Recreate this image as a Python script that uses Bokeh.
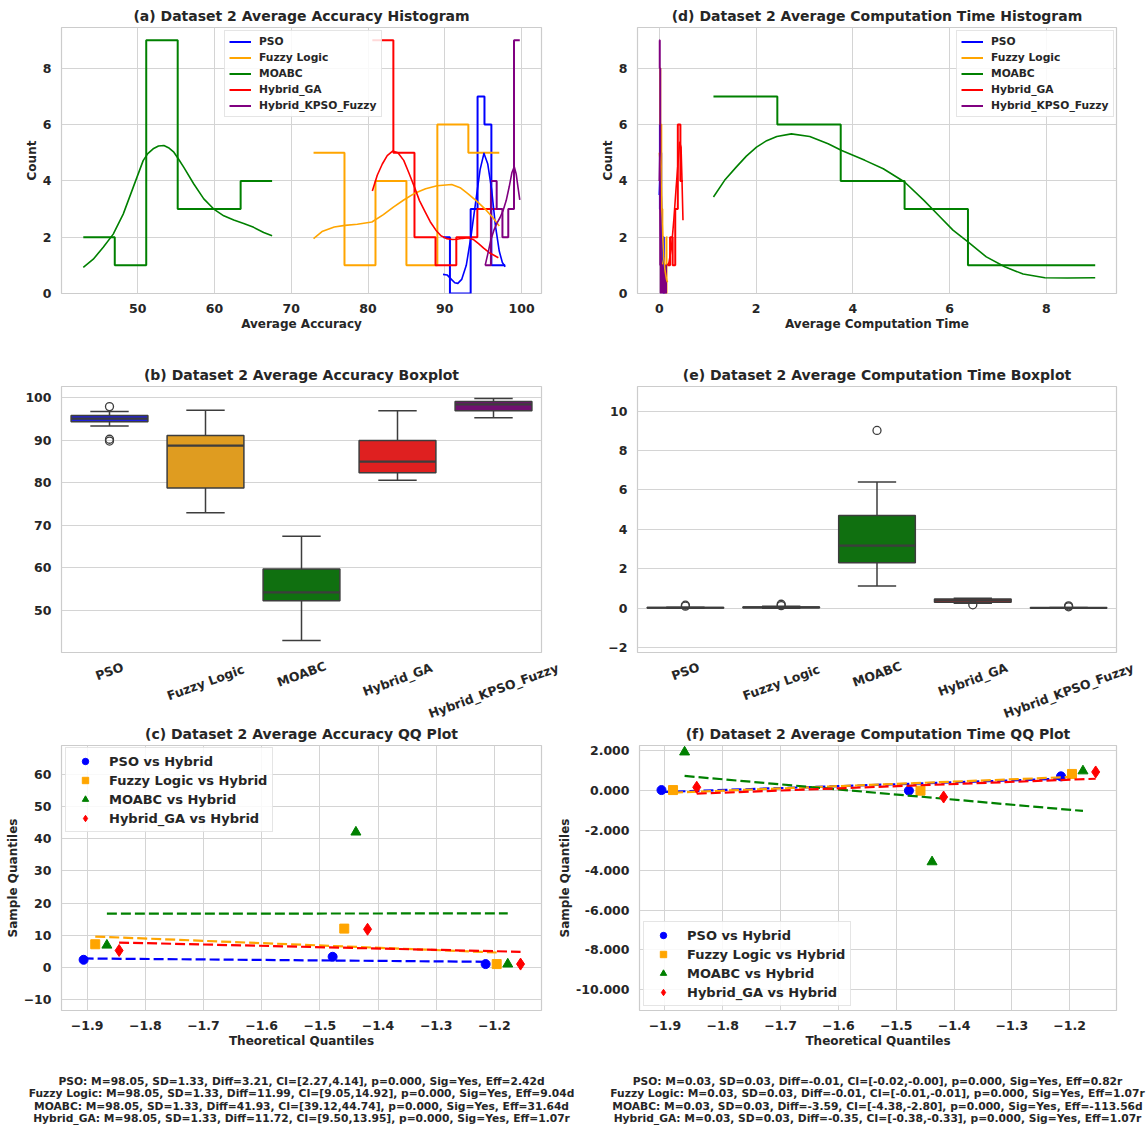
import math
from bokeh.plotting import figure
from bokeh.layouts import column, row
from bokeh.models import Range1d, FixedTicker, CustomJSTickFormatter
from bokeh.embed import file_html
from bokeh.resources import INLINE
from bokeh.core.properties import value

FONT = "DejaVu Sans"
INK = "#262626"
GRID = "#d4d4d4"
EDGE = "#cccccc"
BOX_LINE = "#3d3d3d"

methods = ["PSO", "Fuzzy Logic", "MOABC", "Hybrid_GA", "Hybrid_KPSO_Fuzzy"]
line_colors = ["blue", "orange", "green", "red", "purple"]
box_colors = ["#2020df", "#df9c20", "#107010", "#df2020", "#701070"]

# ---------------- accuracy histograms: bin edges and counts ----------------
acc_edges_pso = [89.77, 90.67, 91.57, 92.47, 93.37, 94.27, 95.17, 96.07, 96.97, 97.87]
acc_counts_pso = [2, 0, 0, 0, 3, 7, 6, 1, 1]
acc_edges_fuzzy = [72.90, 76.93, 80.97, 85.00, 89.03, 93.07, 97.10]
acc_counts_fuzzy = [5, 1, 4, 1, 6, 5]
acc_edges_moabc = [42.90, 47.00, 51.10, 55.20, 59.30, 63.40, 67.50]
acc_counts_moabc = [2, 1, 9, 3, 3, 4]
acc_edges_ga = [80.56, 83.30, 86.05, 88.79, 91.50, 94.24, 96.98]
acc_counts_ga = [9, 5, 2, 1, 2, 3]
acc_edges_kpso = [95.26, 96.01, 96.76, 97.51, 98.27, 99.02, 99.77]
acc_counts_kpso = [1, 4, 3, 2, 3, 9]

# accuracy density curves (scaled to counts)
acc_kde_x_pso = [89.77, 90.3, 90.8, 91.3, 91.7, 92.2, 92.8, 93.4, 94.0, 94.6, 95.1, 95.6, 96.1, 96.6, 97.1, 97.5, 97.87]
acc_kde_y_pso = [0.68, 0.66, 0.52, 0.38, 0.36, 0.50, 1.00, 2.00, 3.20, 4.40, 4.98, 4.60, 3.70, 2.40, 1.50, 1.10, 0.95]
acc_kde_x_fuzzy = [72.9, 74.0, 75.6, 77.0, 78.6, 80.5, 82.0, 83.3, 84.7, 86.0, 87.5, 89.0, 90.9, 92.0, 93.0, 94.2, 95.4, 96.3, 97.1]
acc_kde_y_fuzzy = [1.95, 2.20, 2.36, 2.42, 2.46, 2.54, 2.80, 3.07, 3.33, 3.55, 3.72, 3.83, 3.87, 3.76, 3.55, 3.27, 2.96, 2.68, 2.40]
acc_kde_x_moabc = [42.9, 44.2, 45.5, 46.8, 48.1, 49.4, 50.7, 51.3, 52.0, 52.7, 53.4, 54.0, 54.7, 55.3, 56.0, 57.3, 58.6, 59.9, 61.2, 62.5, 63.8, 65.1, 66.4, 67.5]
acc_kde_y_moabc = [0.93, 1.22, 1.64, 2.11, 2.82, 3.77, 4.72, 4.97, 5.14, 5.24, 5.26, 5.18, 5.02, 4.78, 4.48, 3.89, 3.36, 3.00, 2.76, 2.61, 2.49, 2.35, 2.17, 2.05]
acc_kde_x_ga = [80.56, 81.2, 81.86, 82.5, 83.2, 83.9, 84.65, 85.3, 86.05, 86.7, 87.44, 88.1, 88.84, 89.5, 90.23, 91.0, 91.6, 92.3, 93.0, 93.7, 94.4, 95.1, 95.8, 96.4, 96.98]
acc_kde_y_ga = [3.64, 4.20, 4.60, 4.90, 5.06, 5.00, 4.73, 4.30, 3.78, 3.30, 2.90, 2.55, 2.25, 2.05, 1.95, 1.92, 1.93, 1.96, 1.98, 1.92, 1.77, 1.60, 1.45, 1.36, 1.27]
acc_kde_x_kpso = [95.26, 95.6, 96.0, 96.4, 96.8, 97.2, 97.6, 98.0, 98.4, 98.75, 99.05, 99.3, 99.55, 99.77]
acc_kde_y_kpso = [1.00, 1.40, 1.90, 2.25, 2.50, 2.70, 2.95, 3.30, 3.80, 4.30, 4.50, 4.25, 3.75, 3.33]

# ---------------- computation time histograms ----------------
time_edges_pso = [0.0, 0.0133, 0.0267, 0.04, 0.0533, 0.0667, 0.08, 0.0933, 0.1067, 0.12]
time_counts_pso = [3, 6, 5, 3, 1, 1, 2, 0, 1]
time_edges_fuzzy = [0.0, 0.021, 0.0425, 0.064, 0.085, 0.106, 0.1275, 0.149, 0.17]
time_counts_fuzzy = [8, 6, 3, 1, 1, 1, 0, 2]
time_edges_moabc = [1.12, 2.44, 3.75, 5.07, 6.38, 7.70, 9.01]
time_counts_moabc = [7, 6, 4, 3, 1, 1]
time_edges_ga = [0.17, 0.2233, 0.2767, 0.33, 0.3833, 0.4367, 0.49]
time_counts_ga = [1, 2, 1, 3, 6, 4]
time_edges_kpso = [0.0, 0.01, 0.02, 0.03, 0.04, 0.05, 0.06, 0.07, 0.08, 0.09, 0.10, 0.11, 0.12, 0.13, 0.14, 0.15]
time_counts_kpso = [9, 8, 1, 0, 1, 0, 1, 0, 0, 1, 0, 0, 0, 0, 1]

time_kde_x_pso = [0.0, 0.02, 0.04, 0.06, 0.08, 0.10, 0.12]
time_kde_y_pso = [3.5, 4.5, 3.5, 2.0, 1.2, 1.0, 0.8]
time_kde_x_fuzzy = [0.0, 0.03, 0.06, 0.09, 0.12, 0.15, 0.17]
time_kde_y_fuzzy = [5.0, 4.5, 2.5, 1.3, 0.8, 0.5, 0.4]
time_kde_x_moabc = [1.12, 1.35, 1.59, 1.80, 2.01, 2.22, 2.43, 2.73, 3.11, 3.49, 3.77, 4.25, 4.63, 5.07, 5.47, 5.77, 6.07, 6.38, 6.76, 7.14, 7.52, 7.97, 8.43, 9.01]
time_kde_y_moabc = [3.43, 4.02, 4.49, 4.88, 5.20, 5.43, 5.58, 5.67, 5.58, 5.32, 5.08, 4.73, 4.43, 3.96, 3.31, 2.78, 2.25, 1.83, 1.30, 0.95, 0.69, 0.56, 0.55, 0.56]
time_kde_x_ga = [0.17, 0.20, 0.25, 0.30, 0.35, 0.40, 0.42, 0.45, 0.47, 0.49]
time_kde_y_ga = [1.0, 1.1, 1.6, 2.6, 3.8, 4.9, 5.37, 5.2, 4.0, 2.6]
time_kde_x_kpso = [0.0, 0.01, 0.02, 0.04, 0.07, 0.10, 0.15]
time_kde_y_kpso = [4.0, 5.0, 3.0, 1.0, 0.5, 0.3, 0.2]

# ---------------- box plot summaries (low whisker, q1, median, q3, high whisker) ----------------
acc_lo = [93.30, 72.90, 42.90, 80.55, 95.26]
acc_q1 = [94.30, 78.75, 52.20, 82.35, 96.90]
acc_med = [95.07, 88.70, 54.20, 84.95, 98.40]
acc_q3 = [95.80, 91.10, 59.70, 89.90, 99.06]
acc_hi = [96.70, 97.00, 67.40, 96.90, 99.77]
acc_out_idx = [0, 0, 0]
acc_out_val = [97.87, 90.20, 89.77]

time_lo = [0.00, 0.00, 1.12, 0.25, 0.00]
time_q1 = [0.01, 0.02, 2.31, 0.30, 0.005]
time_med = [0.02, 0.04, 3.17, 0.40, 0.01]
time_q3 = [0.03, 0.06, 4.70, 0.46, 0.02]
time_hi = [0.05, 0.10, 6.40, 0.50, 0.04]
time_out_idx = [0, 0, 1, 1, 2, 3, 4, 4]
time_out_val = [0.10, 0.15, 0.13, 0.20, 9.02, 0.17, 0.07, 0.12]

# ---------------- QQ plots ----------------
qq_labels = ["PSO vs Hybrid", "Fuzzy Logic vs Hybrid", "MOABC vs Hybrid", "Hybrid_GA vs Hybrid"]
qq_colors = ["blue", "orange", "green", "red"]
qq_markers = ["circle", "square", "triangle", "diamond"]
qq_sizes = [9, 9, 10, 12]
qq_theo = [[-1.906, -1.478, -1.215], [-1.886, -1.458, -1.196], [-1.866, -1.438, -1.177], [-1.845, -1.418, -1.155]]
acc_qq_sample = [[2.37, 3.30, 1.03], [7.20, 12.06, 1.03], [6.90, 42.06, 1.03], [5.26, 11.86, 1.03]]
acc_qq_fit = [[2.78, 1.75], [9.60, 4.64], [16.70, 16.80], [7.73, 4.85]]
time_qq_sample = [[0.03, 0.00, 0.72], [0.03, 0.00, 0.84], [1.94, -3.58, 0.99], [0.17, -0.32, 0.94]]
time_qq_fit = [[-0.07, 0.60], [-0.10, 0.69], [0.74, -1.02], [-0.15, 0.60]]

acc_stats = [
    "PSO: M=98.05, SD=1.33, Diff=3.21, CI=[2.27,4.14], p=0.000, Sig=Yes, Eff=2.42d",
    "Fuzzy Logic: M=98.05, SD=1.33, Diff=11.99, CI=[9.05,14.92], p=0.000, Sig=Yes, Eff=9.04d",
    "MOABC: M=98.05, SD=1.33, Diff=41.93, CI=[39.12,44.74], p=0.000, Sig=Yes, Eff=31.64d",
    "Hybrid_GA: M=98.05, SD=1.33, Diff=11.72, CI=[9.50,13.95], p=0.000, Sig=Yes, Eff=1.07r",
]
time_stats = [
    "PSO: M=0.03, SD=0.03, Diff=-0.01, CI=[-0.02,-0.00], p=0.000, Sig=Yes, Eff=0.82r",
    "Fuzzy Logic: M=0.03, SD=0.03, Diff=-0.01, CI=[-0.01,-0.01], p=0.000, Sig=Yes, Eff=1.07r",
    "MOABC: M=0.03, SD=0.03, Diff=-3.59, CI=[-4.38,-2.80], p=0.000, Sig=Yes, Eff=-113.56d",
    "Hybrid_GA: M=0.03, SD=0.03, Diff=-0.35, CI=[-0.38,-0.33], p=0.000, Sig=Yes, Eff=1.07r",
]

FRAME_H = 266
PAGE_W = 1147
PAGE_H = 1126


def base_fig(title, width, height, borders, xr, yr):
    left, right, top, bottom = borders
    p = figure(width=width, height=height, x_range=Range1d(*xr), y_range=Range1d(*yr),
               output_backend="svg", toolbar_location=None, title=title,
               min_border_left=left, min_border_right=right,
               min_border_top=top, min_border_bottom=bottom)
    p.title.align = "center"
    p.title.text_font = FONT
    p.title.text_font_size = "14px"
    p.title.text_font_style = "bold"
    p.title.text_color = INK
    p.title.standoff = 7
    p.outline_line_color = EDGE
    p.outline_line_width = 1.2
    p.background_fill_color = "white"
    p.border_fill_color = "white"
    for ax in p.axis:
        ax.axis_line_color = None
        ax.major_tick_line_color = None
        ax.minor_tick_line_color = None
        ax.major_label_text_font = FONT
        ax.major_label_text_font_style = "bold"
        ax.major_label_text_font_size = "12.5px"
        ax.major_label_text_color = INK
        ax.major_label_standoff = 4
        ax.axis_label_text_font = FONT
        ax.axis_label_text_font_style = "bold"
        ax.axis_label_text_font_size = "12px"
        ax.axis_label_text_color = INK
        ax.axis_label_standoff = 1
    p.grid.grid_line_color = GRID
    p.grid.grid_line_width = 1
    return p


def minus_fmt(digits):
    return CustomJSTickFormatter(code="return tick.toFixed(%d).replace('-', '\\u2212');" % digits)


def style_legend(lg, loc, size, glyph_w, row_h, spacing, padding, standoff):
    lg.location = loc
    lg.margin = 0
    lg.label_text_font = FONT
    lg.label_text_font_style = "bold"
    lg.label_text_font_size = size
    lg.label_text_color = INK
    lg.glyph_width = glyph_w
    lg.glyph_height = row_h
    lg.label_height = row_h
    lg.spacing = spacing
    lg.padding = padding
    lg.label_standoff = standoff
    lg.border_line_color = EDGE
    lg.border_line_width = 1
    lg.background_fill_alpha = 0.85


def hist_panel(title, xlabel, width, borders, xr, xticks, edges, counts, kx, ky, legend_loc):
    p = base_fig(title, width, 350, borders, xr, (0, 9.45))
    p.xaxis.axis_label = xlabel
    p.yaxis.axis_label = "Count"
    p.xaxis.ticker = FixedTicker(ticks=xticks)
    p.yaxis.ticker = FixedTicker(ticks=[0, 2, 4, 6, 8])
    p.xaxis.formatter = minus_fmt(0)
    for name, col, e, c in zip(methods, line_colors, edges, counts):
        p.step(x=e, y=c + [c[-1]], mode="after", line_color=col, line_width=2, legend_label=name)
    for col, x, y in zip(line_colors, kx, ky):
        p.line(x=x, y=y, line_color=col, line_width=1.6, line_join="round")
    style_legend(p.legend[0], legend_loc, "10.7px", 22, 13, 3, 4, 8)
    return p


def box_panel(title, width, borders, yr, yticks, fmt, lo, q1, med, q3, hi, out_idx, out_val):
    left, right, top, bottom = borders
    p = base_fig(title, width, top + FRAME_H + bottom, borders, (-0.5, 4.5), yr)
    idx = list(range(len(methods)))
    p.xaxis.visible = False
    p.xgrid.grid_line_color = None
    p.yaxis.ticker = FixedTicker(ticks=yticks)
    p.yaxis.formatter = fmt
    p.segment(x0=idx, y0=q3, x1=idx, y1=hi, line_color=BOX_LINE, line_width=1.5)
    p.segment(x0=idx, y0=q1, x1=idx, y1=lo, line_color=BOX_LINE, line_width=1.5)
    p.segment(x0=[i - 0.2 for i in idx], y0=hi, x1=[i + 0.2 for i in idx], y1=hi, line_color=BOX_LINE, line_width=1.5)
    p.segment(x0=[i - 0.2 for i in idx], y0=lo, x1=[i + 0.2 for i in idx], y1=lo, line_color=BOX_LINE, line_width=1.5)
    p.vbar(x=idx, bottom=q1, top=q3, width=0.8, fill_color=box_colors, line_color=BOX_LINE, line_width=1.5)
    p.segment(x0=[i - 0.4 for i in idx], y0=med, x1=[i + 0.4 for i in idx], y1=med, line_color=BOX_LINE, line_width=2.2)
    p.scatter(x=out_idx, y=out_val, marker="circle", size=8, fill_color=None, line_color=BOX_LINE, line_width=1.3)
    return p


def qq_panel(title, width, borders, yr, yticks, yfmt, samples, fits, legend_loc):
    left, right, top, bottom = borders
    p = base_fig(title, width, top + FRAME_H + bottom, borders, (-1.944, -1.119), yr)
    p.xaxis.axis_label = "Theoretical Quantiles"
    p.yaxis.axis_label = "Sample Quantiles"
    p.xaxis.ticker = FixedTicker(ticks=[-1.9, -1.8, -1.7, -1.6, -1.5, -1.4, -1.3, -1.2])
    p.xaxis.formatter = minus_fmt(1)
    p.yaxis.ticker = FixedTicker(ticks=yticks)
    p.yaxis.formatter = yfmt
    for lab, col, mk, sz, tx, sy, fy in zip(qq_labels, qq_colors, qq_markers, qq_sizes, qq_theo, samples, fits):
        p.scatter(x=tx, y=sy, marker=mk, size=sz, fill_color=col, line_color=col, legend_label=lab)
        p.line(x=[min(tx), max(tx)], y=fy, line_color=col, line_width=2.2, line_dash="10 4")
    style_legend(p.legend[0], legend_loc, "13px", 28, 16, 3, 5, 10)
    return p


def blank_strip(height):
    s = figure(width=PAGE_W, height=height, output_backend="svg", toolbar_location=None,
               x_range=Range1d(0, PAGE_W), y_range=Range1d(0, height), min_border=0)
    s.axis.visible = False
    s.grid.visible = False
    s.outline_line_color = None
    return s


# ---------------- row 1: histograms ----------------
ROW1_H = 350
A_W, D_W = 589, 558
pa = hist_panel("(a) Dataset 2 Average Accuracy Histogram", "Average Accuracy", A_W, (61, 48, 27, 57),
                (40.06, 102.6), [50, 60, 70, 80, 90, 100],
                [acc_edges_pso, acc_edges_fuzzy, acc_edges_moabc, acc_edges_ga, acc_edges_kpso],
                [acc_counts_pso, acc_counts_fuzzy, acc_counts_moabc, acc_counts_ga, acc_counts_kpso],
                [acc_kde_x_pso, acc_kde_x_fuzzy, acc_kde_x_moabc, acc_kde_x_ga, acc_kde_x_kpso],
                [acc_kde_y_pso, acc_kde_y_fuzzy, acc_kde_y_moabc, acc_kde_y_ga, acc_kde_y_kpso],
                (163, 176))
pd_ = hist_panel("(d) Dataset 2 Average Computation Time Histogram", "Average Computation Time", D_W, (48, 31, 27, 57),
                 (-0.45, 9.45), [0, 2, 4, 6, 8],
                 [time_edges_pso, time_edges_fuzzy, time_edges_moabc, time_edges_ga, time_edges_kpso],
                 [time_counts_pso, time_counts_fuzzy, time_counts_moabc, time_counts_ga, time_counts_kpso],
                 [time_kde_x_pso, time_kde_x_fuzzy, time_kde_x_moabc, time_kde_x_ga, time_kde_x_kpso],
                 [time_kde_y_pso, time_kde_y_fuzzy, time_kde_y_moabc, time_kde_y_ga, time_kde_y_kpso],
                 (319, 176))

# ---------------- row 2: box plots ----------------
B_W, E_W = 575, 572
B_BORDERS = (61, 34, 36, 2)
E_BORDERS = (62, 31, 36, 2)
pb = box_panel("(b) Dataset 2 Average Accuracy Boxplot", B_W, B_BORDERS,
               (40.06, 102.6), [50, 60, 70, 80, 90, 100], minus_fmt(0),
               acc_lo, acc_q1, acc_med, acc_q3, acc_hi, acc_out_idx, acc_out_val)
pe = box_panel("(e) Dataset 2 Average Computation Time Boxplot", E_W, E_BORDERS,
               (-2.25, 11.25), [-2, 0, 2, 4, 6, 8, 10], minus_fmt(0),
               time_lo, time_q1, time_med, time_q3, time_hi, time_out_idx, time_out_val)

# rotated category names under both box plots, each centred on its box
STRIP_H = 66
cats = blank_strip(STRIP_H)
ang = math.radians(20)
cx, cy, ct = [], [], []
for x0, width, (left, right, _, _) in ((0, B_W, B_BORDERS), (B_W, E_W, E_BORDERS)):
    slot = (width - left - right) / len(methods)
    for i, name in enumerate(methods):
        w = 8.1 * len(name)
        cx.append(x0 + left + (i + 0.5) * slot)
        cy.append(STRIP_H - (6 + (w * math.sin(ang) + 14 * math.cos(ang)) / 2))
        ct.append(name)
cats.text(x=cx, y=cy, text=ct, angle=ang, text_align="center", text_baseline="middle",
          text_font=value(FONT), text_font_style="bold", text_font_size="12.5px", text_color=INK)

# ---------------- row 3: QQ plots ----------------
C_BORDERS = (61, 14, 24, 50)
F_BORDERS = (82, 31, 24, 50)
pc = qq_panel("(c) Dataset 2 Average Accuracy QQ Plot", 555, C_BORDERS,
              (-13.4, 69.0), [-10, 0, 10, 20, 30, 40, 50, 60], minus_fmt(0),
              acc_qq_sample, acc_qq_fit, (4, 178))
pf = qq_panel("(f) Dataset 2 Average Computation Time QQ Plot", 592, F_BORDERS,
              (-11.05, 2.27), [-10, -8, -6, -4, -2, 0, 2],
              CustomJSTickFormatter(code="return tick.toFixed(3);"),
              time_qq_sample, time_qq_fit, (4, 4))

# ---------------- statistics footer ----------------
ROW2_H = 36 + FRAME_H + 2
ROW3_H = C_BORDERS[2] + FRAME_H + C_BORDERS[3]
FOOT_H = PAGE_H - ROW1_H - ROW2_H - STRIP_H - ROW3_H
foot = blank_strip(FOOT_H)
for fx, lines in ((301, acc_stats), (877, time_stats)):
    foot.text(x=[fx] * len(lines), y=[FOOT_H - 20.5 - 12.5 * k for k in range(len(lines))], text=lines,
              text_align="center", text_baseline="middle", text_font=value(FONT),
              text_font_style="bold", text_font_size="10.7px", text_color=INK)

layout = column(row(pa, pd_), row(pb, pe), cats, row(pc, pf), foot)

with open("out.html", "w") as fh:
    fh.write(file_html(layout, INLINE, "Dataset 2 comparison"))
